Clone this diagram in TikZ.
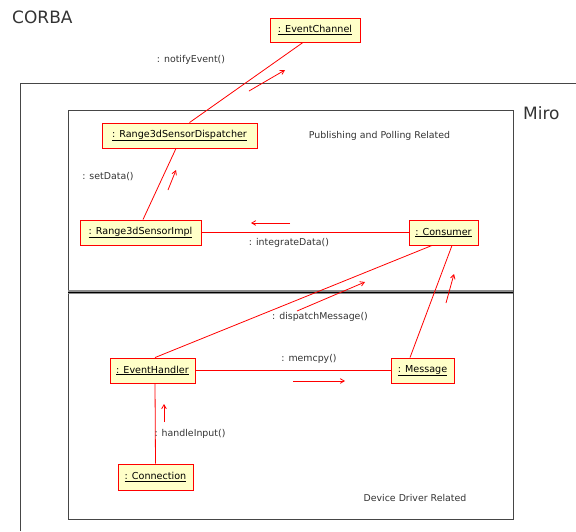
\documentclass[tikz,border=0pt]{standalone}
\usepackage{fontspec}
\setmainfont{DejaVu Sans}
\usepackage{tikz}
\usetikzlibrary{arrows}
\usetikzlibrary{positioning}
\definecolor{objfill}{RGB}{255,255,200}
\definecolor{framegray}{RGB}{70,70,70}
\definecolor{sepgray}{RGB}{140,140,140}

\begin{document}
\begin{tikzpicture}[x=1pt,y=-1pt,
	object_node/.style={rectangle,draw=red,fill=objfill,line width=0.9pt,minimum height=25pt,inner sep=0pt,font=\fontsize{9.6}{11}\selectfont},
	link_line/.style={draw=red,line width=0.8pt},
	msg_arrow/.style={draw=red,line width=0.8pt,->,>=angle 60},
	msg_label/.style={font=\fontsize{9.4}{11}\selectfont,text=black!80},
	frame_line/.style={draw=framegray,line width=0.8pt}]
	
	\useasboundingbox (0,0) rectangle (576,531);
	
	% frames
	\draw[frame_line] (20,531) -- (20,83) -- (576,83);
	\node[anchor=west,inner sep=0pt,font=\fontsize{17}{19}\selectfont,text=black!80] (corba) at (12,17) {CORBA};
	\draw[frame_line] (68,110) rectangle (513,519);
	\node[anchor=west,inner sep=0pt,font=\fontsize{17}{19}\selectfont,text=black!80] (miro) at (523,113) {Miro};
	\draw[draw=sepgray,line width=3.5pt] (68,292) -- (513,292);
	\draw[draw=black,line width=0.7pt] (68,292) -- (513,292);
	\node[msg_label] (pubpoll) at (379.5,136) {Publishing and Polling Related};
	\node[msg_label] (devdrv) at (415,498) {Device Driver Related};
	
	% objects
	\node[object_node,minimum width=90pt,minimum height=24pt] (channel) at (315,30) {\underline{: EventChannel}};
	\node[object_node,minimum width=155pt] (dispatcher) at (179.5,135.5) {\underline{: Range3dSensorDispatcher}};
	\node[object_node,minimum width=121pt] (impl) at (140.5,232.5) {\underline{: Range3dSensorImpl}};
	\node[object_node,minimum width=69pt] (consumer) at (443.5,232.5) {\underline{: Consumer}};
	\node[object_node,minimum width=85pt] (handler) at (152.5,370.5) {\underline{: EventHandler}};
	\node[object_node,minimum width=63pt] (message) at (422.5,370.5) {\underline{: Message}};
	\node[object_node,minimum width=75pt,minimum height=26pt] (connection) at (155.5,477) {\underline{: Connection}};
	
	% links
	\path[link_line]
	([xshift=-12pt]channel.south) edge ([xshift=10pt]dispatcher.north)
	([xshift=-3.5pt]dispatcher.south) edge ([xshift=2.5pt]impl.north)
	(impl.east) edge (consumer.west)
	([xshift=2.5pt]handler.north) edge ([xshift=-11.5pt]consumer.south)
	([xshift=-12.5pt]message.north) edge ([xshift=8.5pt]consumer.south)
	(handler.east) edge (message.west)
	([xshift=2.5pt]handler.south) edge (connection.north);
	
	% messages
	\coordinate (notify_a) at (249,91);
	\coordinate (notify_b) at (285,70);
	\coordinate (setdata_a) at (168,190);
	\coordinate (setdata_b) at (176,170);
	\coordinate (integrate_a) at (290,223);
	\coordinate (integrate_b) at (251,223);
	\coordinate (dispatch_a) at (297,311);
	\coordinate (dispatch_b) at (365,282);
	\coordinate (msgcons_a) at (446,303);
	\coordinate (msgcons_b) at (454,274);
	\coordinate (memcpy_a) at (293,381);
	\coordinate (memcpy_b) at (345,381);
	\coordinate (input_a) at (164,422);
	\coordinate (input_b) at (164,404);
	
	\draw[msg_arrow] (notify_a) -- (notify_b);
	\draw[msg_arrow] (setdata_a) -- (setdata_b);
	\draw[msg_arrow] (integrate_a) -- (integrate_b);
	\draw[msg_arrow] (dispatch_a) -- (dispatch_b);
	\draw[msg_arrow] (msgcons_a) -- (msgcons_b);
	\draw[msg_arrow] (memcpy_a) -- (memcpy_b);
	\draw[msg_arrow] (input_a) -- (input_b);
	
	\node[msg_label] (notify) at (191,60) {: notifyEvent()};
	\node[msg_label] (setdata) at (108,177) {: setData()};
	\node[msg_label] (integrate) at (289,243) {: integrateData()};
	\node[msg_label] (dispatch) at (320,317) {: dispatchMessage()};
	\node[msg_label] (memcpy) at (309,359) {: memcpy()};
	\node[msg_label] (input) at (190,434) {: handleInput()};
\end{tikzpicture}
\end{document}
